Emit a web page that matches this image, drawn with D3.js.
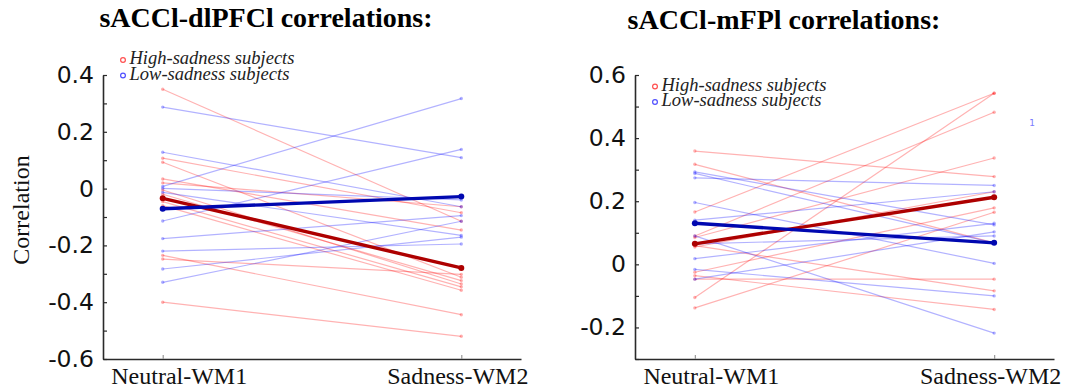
<!DOCTYPE html>
<html>
<head>
<meta charset="utf-8">
<script src="https://cdn.jsdelivr.net/npm/d3@7"></script>
<style>
    body { margin: 0; background: #fff; }
    #chart { width: 1070px; height: 392px; }
</style>
</head>
<body>
<div id="chart"></div>
<script>
//Categories and legend
const CONDITIONS = ['Neutral-WM1', 'Sadness-WM2'];
const GROUPS = ['High-sadness subjects', 'Low-sadness subjects'];

//sACCl-dlPFCl (left panel), one value per subject
const dlpfcHighNeutral = [0.35, 0.107, 0.093, 0.034, 0.02, -0.005, -0.02, -0.046, -0.06, -0.235, -0.248, -0.40];
const dlpfcHighSadness = [-0.115, -0.085, -0.312, -0.146, -0.064, -0.336, -0.324, -0.346, -0.358, -0.444, -0.302, -0.52];
const dlpfcLowNeutral = [0.287, 0.128, 0.008, 0.001, -0.013, -0.114, -0.176, -0.22, -0.283, -0.33];
const dlpfcLowSadness = [0.109, -0.064, 0.317, -0.04, -0.165, 0.138, -0.095, -0.195, -0.171, -0.115];
const dlpfcTicks = [0.4, 0.2, 0, -0.2, -0.4, -0.6];

//sACCl-mFPl (right panel)
const mfplHighNeutral = [0.359, 0.317, 0.166, -0.105, 0.09, 0.085, -0.138, -0.025, 0.059, -0.036, -0.047, 0.055];
const mfplHighSadness = [0.278, 0.068, 0.542, 0.542, 0.482, 0.337, 0.165, 0.179, -0.084, -0.143, -0.047, 0.23];
const mfplLowNeutral = [0.293, 0.288, 0.274, 0.196, 0.09, 0.018, -0.016, -0.047, 0.14, 0.065];
const mfplLowSadness = [0.125, 0.068, 0.25, 0.003, -0.218, 0.13, -0.1, 0.103, 0.23, 0.09];
const mfplTicks = [0.6, 0.4, 0.2, 0, -0.2];

//Colores
const COLOR_HIGH = 'rgba(255,0,0,0.3)',
    COLOR_LOW = 'rgba(0,0,255,0.3)',
    COLOR_HIGH_MEAN = '#ad0000',
    COLOR_LOW_MEAN = '#0008b0',
    COLOR_HIGH_LEGEND = '#ff5050',
    COLOR_LOW_LEGEND = '#5050ff';

let svg = d3.select('#chart')
    .append('svg')
    .attr('width', 1070)
    .attr('height', 392);

function pairs(a, b) {
    return a.map(function(v, i) { return [v, b[i]]; });
}

function tickLabel(d) {
    if (Math.abs(d) < 1e-9) { return '0'; }
    return d.toFixed(1);
}

function drawPanel(opts) {
    let width = opts.right - opts.left,
        height = opts.bottom - opts.top;

    let g = svg.append('g')
        .attr('transform', 'translate(' + opts.left + ',' + opts.top + ')');

    let x = d3.scaleLinear()
        .domain([0.8, 2.2])
        .range([0, width]);

    let y = d3.scaleLinear()
        .domain(opts.domain)
        .range([height, 0]);

    //Eje Y: ticks every 0.1, labels every 0.2
    let minor = d3.range(Math.round(opts.domain[0] * 10), Math.round(opts.domain[1] * 10) + 1)
        .map(function(d) { return d / 10; });

    g.append('g')
        .attr('class', 'y-axis')
        .call(d3.axisLeft(y)
            .tickValues(minor)
            .tickSizeInner(-4)
            .tickSizeOuter(0)
            .tickPadding(9)
            .tickFormat(function(d) {
                let major = opts.ticks.some(function(t) { return Math.abs(t - d) < 1e-9; });
                return major ? tickLabel(d) : '';
            }))
        .call(function(a) {
            a.select('.domain').attr('stroke', '#2a2a2a').attr('stroke-width', 1.6);
            a.selectAll('.tick line').attr('stroke', '#2a2a2a').attr('stroke-width', 1.2);
            a.selectAll('text')
                .attr('fill', '#111')
                .style('font-family', '"DejaVu Sans", sans-serif')
                .style('font-size', '23.5px');
        });

    //Eje X
    g.append('g')
        .attr('transform', 'translate(0,' + height + ')')
        .call(d3.axisBottom(x)
            .tickValues([1, 2])
            .tickSizeInner(-4)
            .tickSizeOuter(0)
            .tickPadding(8)
            .tickFormat(function(d) { return CONDITIONS[d - 1]; }))
        .call(function(a) {
            a.select('.domain').attr('stroke', '#2a2a2a').attr('stroke-width', 1.6);
            a.selectAll('.tick line').attr('stroke', '#999').attr('stroke-width', 1.2);
            a.selectAll('text')
                .attr('fill', '#111')
                .attr('dx', function(d) { return d == 1 ? 16 : -4; })
                .style('font-family', '"Liberation Serif", "Times New Roman", serif')
                .style('font-size', '24px');
        });

    let line = d3.line()
        .x(function(d, i) { return x(i + 1); })
        .y(function(d) { return y(d); });

    //Subject lines
    let groups = [
        { data: pairs(opts.highN, opts.highS), color: COLOR_HIGH },
        { data: pairs(opts.lowN, opts.lowS), color: COLOR_LOW }
    ];

    groups.forEach(function(grp) {
        let s = g.append('g')
            .selectAll('g')
            .data(grp.data)
            .enter()
            .append('g');

        s.append('path')
            .attr('d', function(d) { return line(d); })
            .attr('fill', 'none')
            .attr('stroke', grp.color)
            .attr('stroke-width', 1.2);

        s.selectAll('circle')
            .data(function(d) { return d; })
            .enter()
            .append('circle')
            .attr('cx', function(d, i) { return x(i + 1); })
            .attr('cy', function(d) { return y(d); })
            .attr('r', 1.7)
            .attr('fill', grp.color);
    });

    //Means
    let means = [
        { data: [d3.mean(opts.highN), d3.mean(opts.highS)], color: COLOR_HIGH_MEAN },
        { data: [d3.mean(opts.lowN), d3.mean(opts.lowS)], color: COLOR_LOW_MEAN }
    ];

    means.forEach(function(m) {
        g.append('path')
            .attr('d', line(m.data))
            .attr('fill', 'none')
            .attr('stroke', m.color)
            .attr('stroke-width', 3.4);

        g.selectAll(null)
            .data(m.data)
            .enter()
            .append('circle')
            .attr('cx', function(d, i) { return x(i + 1); })
            .attr('cy', function(d) { return y(d); })
            .attr('r', 3)
            .attr('fill', m.color);
    });

    //Title
    svg.append('text')
        .attr('x', opts.titleX)
        .attr('y', opts.titleY)
        .attr('text-anchor', 'middle')
        .style('font-family', '"Liberation Serif", "Times New Roman", serif')
        .style('font-weight', 'bold')
        .style('font-size', '28px')
        .attr('fill', '#000')
        .text(opts.title);

    //Legend
    let legend = svg.append('g')
        .attr('transform', 'translate(' + opts.legendX + ',' + opts.legendY + ')');

    GROUPS.forEach(function(name, i) {
        legend.append('circle')
            .attr('cx', 0)
            .attr('cy', i * 15.5 - 4)
            .attr('r', 2.4)
            .attr('fill', 'none')
            .attr('stroke', i == 0 ? COLOR_HIGH_LEGEND : COLOR_LOW_LEGEND)
            .attr('stroke-width', 1.2);

        legend.append('text')
            .attr('x', 6.5)
            .attr('y', i * 15.5)
            .style('font-family', '"Liberation Serif", "Times New Roman", serif')
            .style('font-style', 'italic')
            .style('font-size', '18.5px')
            .attr('fill', '#222')
            .text(name);
    });

    return g;
}

drawPanel({
    left: 103, right: 521, top: 75, bottom: 359,
    domain: [-0.6, 0.4], ticks: dlpfcTicks,
    highN: dlpfcHighNeutral, highS: dlpfcHighSadness,
    lowN: dlpfcLowNeutral, lowS: dlpfcLowSadness,
    title: 'sACCl-dlPFCl correlations:', titleX: 266, titleY: 27,
    legendX: 123, legendY: 64
});

drawPanel({
    left: 635, right: 1054, top: 75, bottom: 359,
    domain: [-0.3, 0.6], ticks: mfplTicks,
    highN: mfplHighNeutral, highS: mfplHighSadness,
    lowN: mfplLowNeutral, lowS: mfplLowSadness,
    title: 'sACCl-mFPl correlations:', titleX: 784, titleY: 29,
    legendX: 655, legendY: 90.5
});

//Y label (left panel only)
svg.append('text')
    .attr('transform', 'translate(29,210) rotate(-90)')
    .attr('text-anchor', 'middle')
    .style('font-family', '"Liberation Serif", "Times New Roman", serif')
    .style('font-size', '24px')
    .attr('fill', '#111')
    .text('Correlation');

//Stray mark in the right panel
svg.append('text')
    .attr('x', 1032)
    .attr('y', 126)
    .attr('text-anchor', 'middle')
    .style('font-family', '"DejaVu Sans", sans-serif')
    .style('font-size', '9px')
    .attr('fill', '#7a7aff')
    .text('1');
</script>
</body>
</html>
